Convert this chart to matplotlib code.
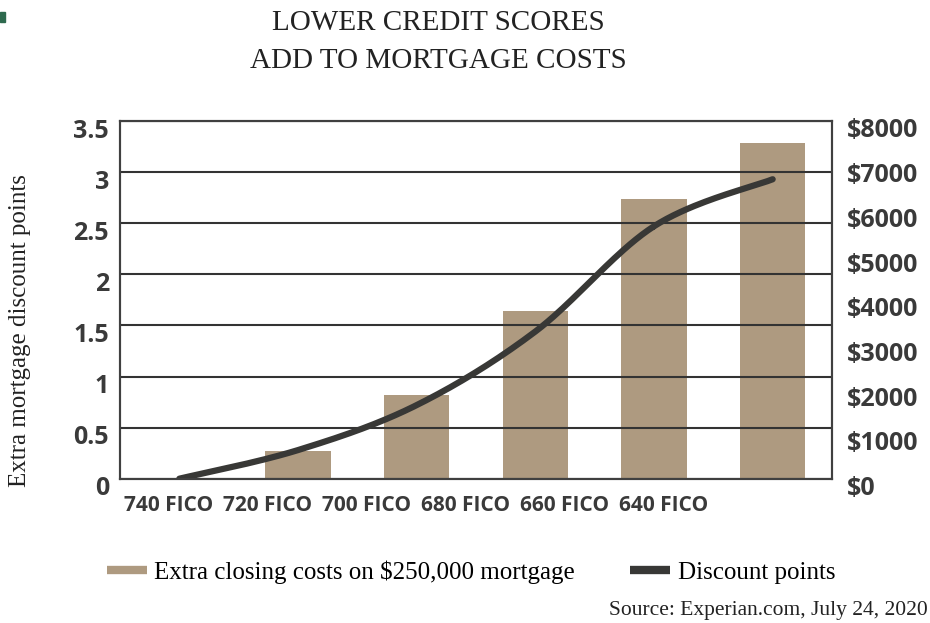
import numpy as np
import matplotlib.pyplot as plt
from matplotlib.lines import Line2D
from matplotlib.patches import Rectangle
from matplotlib.transforms import ScaledTranslation

# data
scores = ['740 FICO', '720 FICO', '700 FICO', '680 FICO', '660 FICO', '640 FICO']
closing_costs = [0, 625, 1875, 3750, 6250, 7500]
discount_points = [0, 0.28, 0.72, 1.44, 2.47, 2.93]

left_ticks = [0, 0.5, 1, 1.5, 2, 2.5, 3, 3.5]
left_labels = ['0', '0.5', '1', '1.5', '2', '2.5', '3', '3.5']
right_ticks = [0, 1000, 2000, 3000, 4000, 5000, 6000, 7000, 8000]
right_labels = ['$0', '$1000', '$2000', '$3000', '$4000', '$5000', '$6000', '$7000', '$8000']

BAR = '#ae9a80'
LINE = '#383836'
TXT = '#3a3a3a'
SERIF = 'Liberation Serif'
SANS = 'Open Sans'


def smooth(x, y, n=40):
    # Catmull-Rom through the points, like a spreadsheet "smoothed line"
    pts = np.column_stack([x, y]).astype(float)
    p = np.vstack([pts[0], pts, pts[-1]])
    t = np.linspace(0, 1, n)[:, None]
    out = []
    for i in range(1, len(p) - 2):
        p0, p1, p2, p3 = p[i - 1], p[i], p[i + 1], p[i + 2]
        seg = 0.5 * (2 * p1 + (-p0 + p2) * t
                     + (2 * p0 - 5 * p1 + 4 * p2 - p3) * t ** 2
                     + (-p0 + 3 * p1 - 3 * p2 + p3) * t ** 3)
        out.append(seg)
    out = np.vstack(out)
    return out[:, 0], out[:, 1]


fig = plt.figure(figsize=(9.3, 6.23), dpi=100)
ax = fig.add_axes([120 / 930, 1 - 478.7 / 623, 712 / 930, 357.7 / 623])
ax2 = ax.twinx()
ax.set_zorder(2)
ax2.set_zorder(1)
ax.patch.set_visible(False)

x = np.arange(len(scores))
ax2.bar(x, closing_costs, width=0.55, color=BAR)
sx, sy = smooth(x, discount_points)
ax.plot(sx, sy, color=LINE, lw=4.5, solid_capstyle='round')

ax.set_xlim(-0.5, len(scores) - 0.5)
ax.set_ylim(0, 3.5)
ax2.set_ylim(0, 8000)

ax.set_yticks(left_ticks)
ax.set_yticklabels(left_labels)
ax2.set_yticks(right_ticks)
ax2.set_yticklabels(right_labels)
ax.grid(axis='y', color='#333333', lw=1.5)
ax.grid(axis='x', visible=False)

# category labels sit packed to the left, as in the source
ax.set_xticks(np.arange(len(scores)) * 0.8334 - 0.087)
ax.set_xticklabels(scores)

for a in (ax, ax2):
    a.tick_params(length=0)
    for s in a.spines.values():
        s.set_color('#404040')
        s.set_linewidth(1.5)

ax.tick_params(axis='y', pad=8)
ax2.tick_params(axis='y', pad=11)
ax.tick_params(axis='x', pad=12)

shift = ScaledTranslation(0, -0.07, fig.dpi_scale_trans)
for lab in ax.get_yticklabels() + ax2.get_yticklabels():
    lab.set_transform(lab.get_transform() + shift)
    lab.set_fontfamily(SANS)
    lab.set_fontweight('bold')
    lab.set_fontsize(18)
    lab.set_color(TXT)
for lab in ax.get_xticklabels():
    lab.set_fontfamily(SANS)
    lab.set_fontweight('bold')
    lab.set_fontsize(15)
    lab.set_color(TXT)

fig.text(438 / 930, 1 - 23 / 623, 'LOWER CREDIT SCORES', ha='center', va='center',
         family=SERIF, size=21, color='#222222')
fig.text(438 / 930, 1 - 61 / 623, 'ADD TO MORTGAGE COSTS', ha='center', va='center',
         family=SERIF, size=21, color='#222222')
fig.text(20 / 930, 1 - 331 / 623, 'Extra mortgage discount points', rotation=90,
         ha='center', va='center', family=SERIF, size=18, color='#222222')

handles = [Line2D([], [], color=BAR, lw=6, solid_capstyle='butt'),
           Line2D([], [], color=LINE, lw=6, solid_capstyle='butt')]
fig.legend(handles, ['Extra closing costs on $250,000 mortgage', 'Discount points'],
           loc='center', bbox_to_anchor=(471 / 930, 1 - 572 / 623), ncol=2,
           frameon=False, prop={'family': SERIF, 'size': 18},
           handlelength=1.6, handletextpad=0.3, columnspacing=2.2)

fig.text(928 / 930, 1 - 610 / 623, 'Source: Experian.com, July 24, 2020',
         ha='right', va='center', family=SERIF, size=15.5, color='#222222')

fig.patches.append(Rectangle((0, 1 - 22 / 623), 5 / 930, 10 / 623,
                             transform=fig.transFigure, color='#2e6a4e'))

fig.savefig('out.png', dpi=100)
